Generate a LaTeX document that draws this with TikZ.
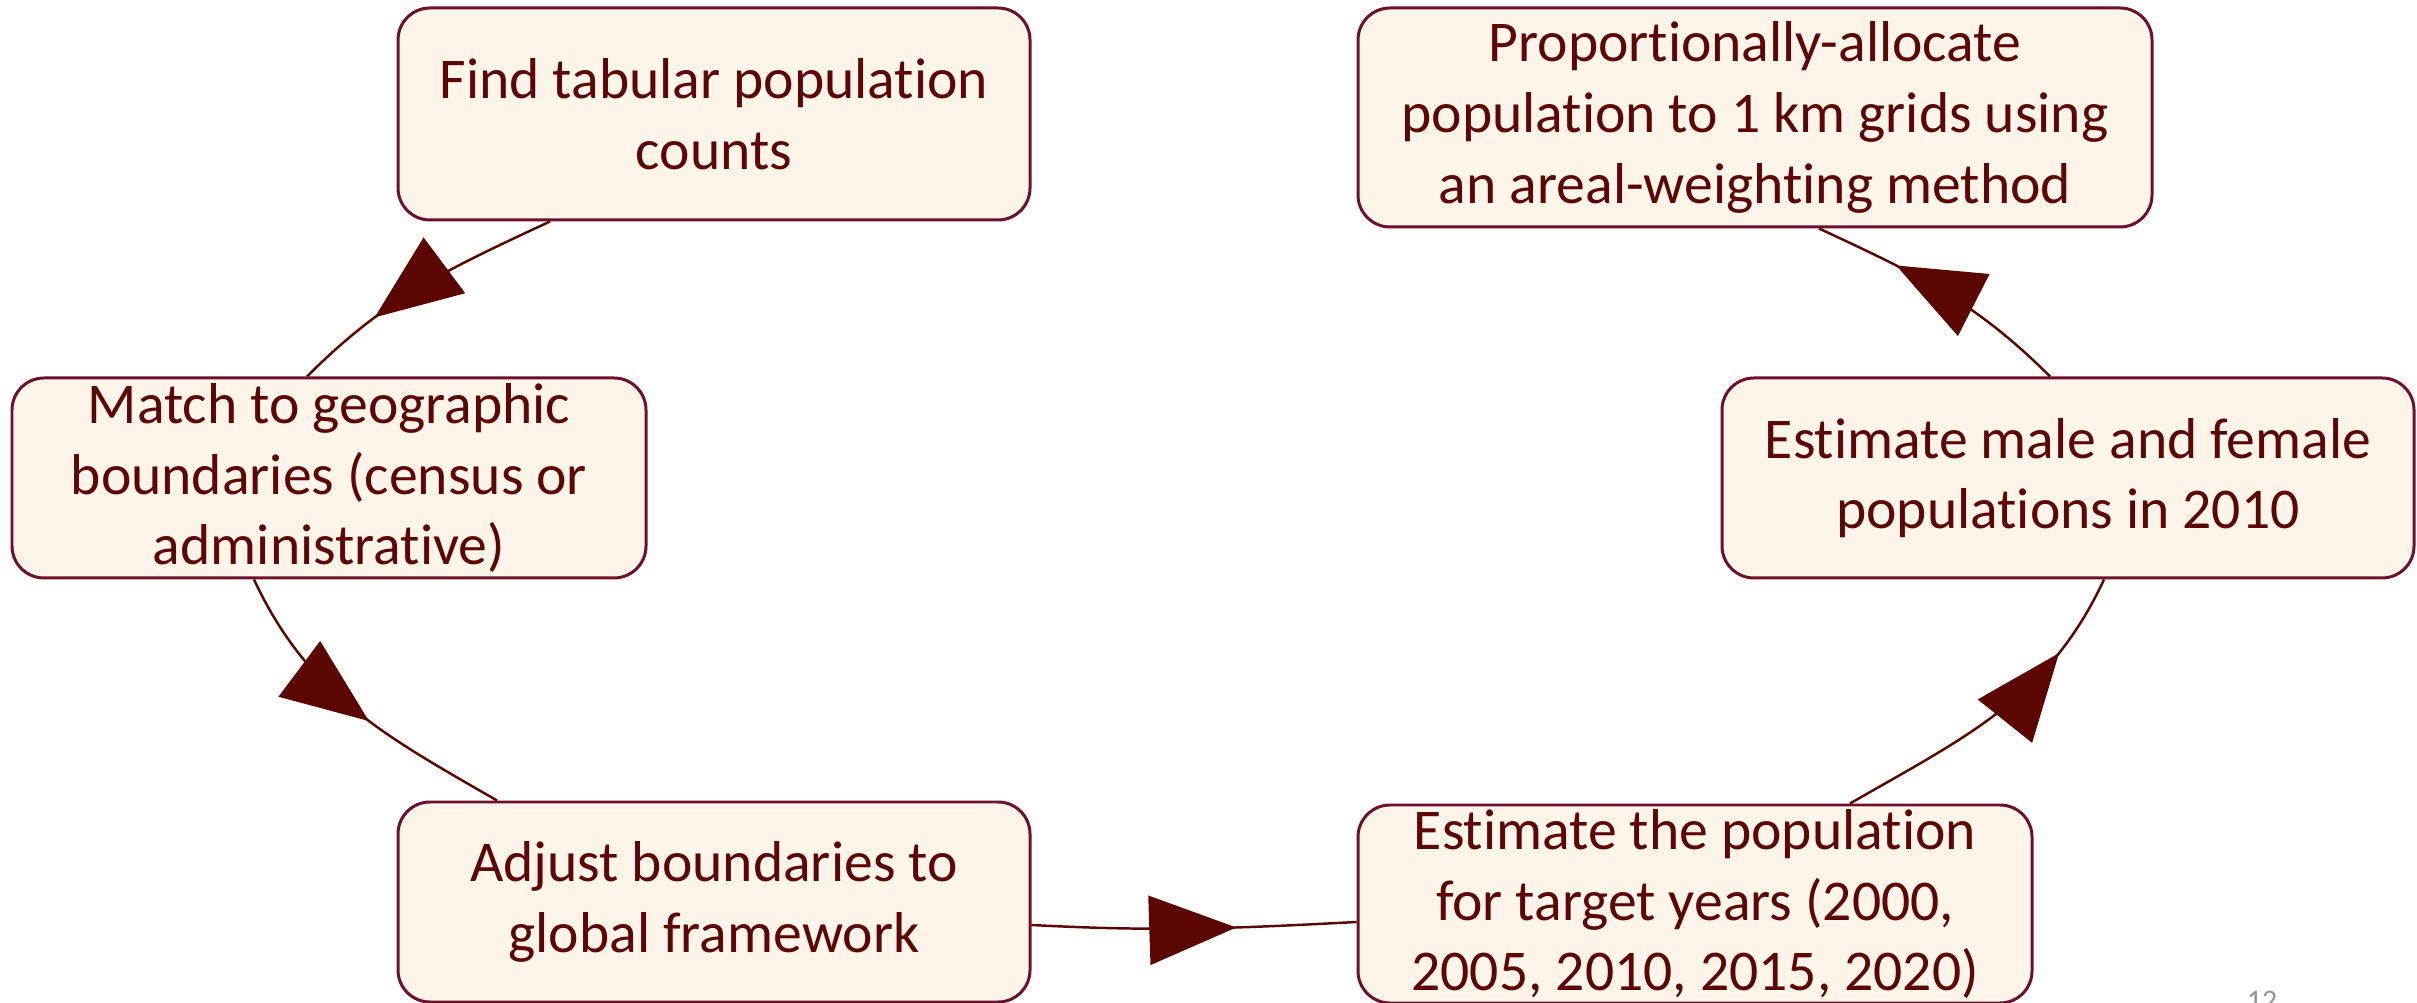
\documentclass[tikz,border=0pt]{standalone}
\usepackage{fontspec}
\setmainfont{Carlito}[Ligatures={NoCommon,NoContextual},Contextuals=NoAlternate]
\usetikzlibrary{arrows.meta,decorations.markings}
\definecolor{txtred}{HTML}{5E0505}
\definecolor{boxline}{HTML}{6E0F2D}
\definecolor{boxfill}{HTML}{FDF5EA}
\definecolor{tipred}{HTML}{5C0600}

\begin{document}
\begin{tikzpicture}
[mybox/.style={draw=boxline, line width=0.85pt, fill=boxfill, rounded corners=0.32cm,
  text=txtred, align=center, inner sep=0pt, font=\fontsize{16.4}{20.1}\selectfont},
myarrow/.style={draw=tipred, line width=0.7pt,
decoration={
markings,
mark=at position #1 with {\arrow[tipred]{Triangle[length=0.87cm,width=0.69cm]}};},
postaction = decorate}]
  \useasboundingbox (0,0) rectangle (24.17,-10.03);
  \node [mybox, minimum width=6.32cm, minimum height=2.12cm] (find) at (7.14,-1.14)
    {Find tabular population\\counts};
  \node [mybox, minimum width=6.34cm, minimum height=2.00cm] (match) at (3.29,-4.78)
    {Match to geographic\\boundaries (census or\\administrative)};
  \node [mybox, minimum width=6.32cm, minimum height=2.00cm] (adjust) at (7.14,-9.02)
    {Adjust boundaries to\\global framework};
  \node [mybox, minimum width=6.74cm, minimum height=1.98cm] (years) at (16.95,-9.04)
    {Estimate the population\\for target years (2000,\\2005, 2010, 2015, 2020)};
  \node [mybox, minimum width=6.92cm, minimum height=2.00cm] (sexes) at (20.68,-4.78)
    {Estimate male and female\\populations in 2010};
  \node [mybox, minimum width=7.94cm, minimum height=2.19cm] (grids) at (17.55,-1.175)
    {Proportionally-allocate\\population to 1 km grids using\\an areal-weighting method};
  \draw [myarrow=0.69] ([xshift=-1.64cm]find.south) to[out=205, in=45] ([xshift=-0.22cm]match.north);
  \draw [myarrow=0.55] ([xshift=-0.75cm]match.south) to[out=-65, in=150] ([xshift=-2.17cm]adjust.north);
  \draw [myarrow=0.63] ([yshift=-0.23cm]adjust.east) to[out=-3, in=183] ([yshift=-0.18cm]years.west);
  \draw [myarrow=0.75] ([xshift=1.55cm]years.north) to[out=30, in=245] ([xshift=0.36cm]sexes.south);
  \draw [myarrow=0.69] ([xshift=-0.18cm]sexes.north) to[out=135, in=-25] ([xshift=0.64cm]grids.south);
  \node [anchor=north, inner sep=0pt, text=gray!85, font=\fontsize{8.5}{10}\selectfont] (pagenum) at (22.62,-9.90) {12};
\end{tikzpicture}
\end{document}
